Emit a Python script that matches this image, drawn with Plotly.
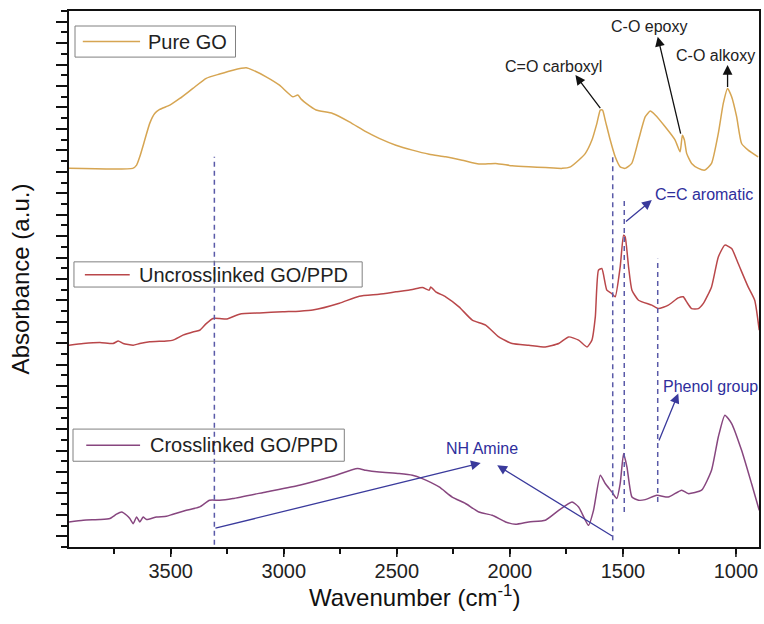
import plotly.graph_objects as go

# FTIR spectra (offset vertically, arbitrary absorbance units)
pure_go_wn = [3950, 3668, 3651, 3637, 3615, 3593, 3571, 3549, 3504, 3460,
              3402, 3343, 3284, 3225, 3166, 3137, 3078, 3019, 2960, 2938,
              2923, 2901, 2857, 2784, 2710, 2637, 2578, 2504, 2431, 2357,
              2284, 2211, 2137, 2063, 1990, 1916, 1843, 1769, 1732, 1696,
              1666, 1637, 1615, 1600, 1590, 1578, 1556, 1534, 1512, 1490,
              1461, 1431, 1401, 1379, 1357, 1313, 1269, 1247, 1237, 1228,
              1218, 1196, 1166, 1137, 1108, 1078, 1056, 1037, 1019, 997,
              975, 946, 902]
pure_go_abs = [17.66, 17.66, 17.81, 18.20, 18.98, 19.76, 20.22, 20.41, 20.61, 20.92,
               21.39, 21.86, 22.06, 22.24, 22.35, 22.24, 21.93, 21.54, 21.00, 21.08,
               20.89, 20.69, 20.38, 20.22, 19.83, 19.37, 19.06, 18.74, 18.51, 18.32,
               18.20, 18.04, 17.86, 17.89, 17.78, 17.73, 17.70, 17.66, 17.73, 18.04,
               18.36, 18.98, 19.76, 20.38, 20.38, 19.90, 18.98, 18.20, 17.73, 17.66,
               17.89, 18.98, 20.07, 20.33, 20.15, 19.60, 18.98, 18.43, 19.21, 18.98,
               18.36, 17.89, 17.66, 17.58, 17.89, 19.29, 20.69, 21.39, 21.00, 20.07,
               18.82, 18.51, 18.20]

uncross_wn = [3950, 3887, 3813, 3755, 3732, 3710, 3666, 3637, 3593, 3519,
              3490, 3446, 3402, 3372, 3343, 3313, 3284, 3254, 3196, 3107,
              3005, 2931, 2872, 2754, 2666, 2578, 2504, 2431, 2387, 2357,
              2350, 2328, 2284, 2225, 2166, 2107, 2049, 1990, 1916, 1843,
              1784, 1740, 1696, 1659, 1637, 1622, 1608, 1593, 1571, 1549,
              1534, 1512, 1497, 1490, 1475, 1460, 1431, 1372, 1343, 1299,
              1255, 1233, 1218, 1196, 1166, 1144, 1108, 1078, 1049, 1019,
              990, 946, 917, 897]
uncross_abs = [9.41, 9.49, 9.54, 9.49, 9.61, 9.49, 9.41, 9.49, 9.57, 9.61,
               9.65, 9.88, 10.03, 10.11, 10.42, 10.66, 10.66, 10.63, 10.86, 10.92,
               10.97, 11.00, 11.05, 11.37, 11.70, 11.79, 11.90, 12.01, 12.10, 11.98,
               12.13, 11.90, 11.67, 11.20, 10.58, 10.35, 9.80, 9.49, 9.41, 9.33,
               9.49, 9.80, 9.65, 9.33, 9.65, 10.73, 12.91, 12.99, 11.98, 11.82,
               11.67, 13.07, 14.54, 14.47, 13.07, 11.98, 11.51, 11.28, 11.12, 11.28,
               11.62, 11.67, 11.43, 11.12, 11.12, 11.36, 12.13, 13.53, 14.08, 13.92,
               13.22, 12.13, 11.51, 10.11]

cross_wn = [3950, 3887, 3813, 3769, 3740, 3717, 3695, 3681, 3666, 3651,
            3637, 3622, 3607, 3563, 3519, 3490, 3431, 3372, 3328, 3284,
            3225, 3078, 2931, 2784, 2674, 2637, 2578, 2490, 2431, 2387,
            2313, 2255, 2196, 2137, 2078, 2019, 1975, 1916, 1843, 1784,
            1725, 1696, 1652, 1630, 1600, 1578, 1549, 1527, 1512, 1497,
            1482, 1460, 1431, 1401, 1350, 1299, 1240, 1211, 1152, 1108,
            1078, 1049, 1019, 975, 931, 897]
cross_abs = [1.17, 1.25, 1.28, 1.33, 1.53, 1.63, 1.48, 1.33, 1.09, 1.40,
             1.17, 1.40, 1.28, 1.40, 1.43, 1.53, 1.71, 1.87, 2.18, 2.18,
             2.26, 2.57, 2.88, 3.30, 3.66, 3.58, 3.50, 3.43, 3.35, 3.19,
             2.80, 2.33, 2.03, 1.63, 1.48, 1.17, 1.06, 1.17, 1.25, 1.71,
             2.10, 1.87, 1.01, 1.71, 3.35, 2.96, 2.57, 2.26, 2.96, 4.36,
             3.73, 2.33, 2.18, 2.21, 2.41, 2.33, 2.65, 2.49, 2.65, 3.58,
             5.13, 6.15, 5.76, 4.51, 2.96, 1.71]

series_names = ["Pure GO", "Uncrosslinked GO/PPD", "Crosslinked GO/PPD"]
series_colors = ["#d6a552", "#b9474a", "#87467f"]

x_ticks = [3500, 3000, 2500, 2000, 1500, 1000]
x_minor_ticks = [3750, 3250, 2750, 2250, 1750, 1250]

# Band guide lines: wavenumber, top and bottom of the dashed marker
band_wn = [3307, 1545, 1494, 1346]
band_top = [18.20, 18.27, 16.18, 13.45]
band_bottom = [0.10, 0.31, 1.63, 2.10]

# Assignment labels
label_text = ["C=O carboxyl", "C-O epoxy", "C-O alkoxy",
              "C=C aromatic", "Phenol group", "NH Amine"]
label_wn = [1806, 1384, 1091, 1368, 1331, 2122]
label_abs = [22.39, 24.27, 22.94, 16.46, 7.47, 4.59]
label_group = ["go", "go", "go", "ppd", "ppd", "ppd"]

# Arrows: tail (on the band) -> head (towards the label)
arrow_tail_wn = [1595, 1243, 1037, 1493, 1343, 3309, 1541]
arrow_tail_abs = [20.40, 19.21, 21.39, 15.12, 4.90, 0.86, 0.47]
arrow_head_wn = [1710, 1346, 1037, 1372, 1255, 2129, 2056]
arrow_head_abs = [22.01, 23.80, 22.48, 16.18, 7.16, 3.92, 3.81]
arrow_group = ["go", "go", "go", "ppd", "ppd", "ppd", "ppd"]

FONT = "Arial, 'Liberation Sans', sans-serif"
text_color = {"go": "#222222", "ppd": "#2e2e9c"}
arrow_color = {"go": "#111111", "ppd": "#3a3a9c"}

# Per-series key boxes placed beside each spectrum (paper coordinates):
# box (x0, y0, x1, y1), key line (x0, x1, y), label x
key_box = [(0.0087, 0.914, 0.2413, 0.972),
           (0.0072, 0.485, 0.4249, 0.532),
           (0.0058, 0.160, 0.3990, 0.220)]
key_line = [(0.020, 0.103, 0.943), (0.023, 0.088, 0.508), (0.025, 0.103, 0.190)]
key_text_x = [0.111, 0.098, 0.114]

fig = go.Figure()

for wn, ab, name, col in zip([pure_go_wn, uncross_wn, cross_wn],
                             [pure_go_abs, uncross_abs, cross_abs],
                             series_names, series_colors):
    fig.add_trace(go.Scatter(x=wn, y=ab, mode="lines", name=name, showlegend=False,
                             line=dict(color=col, width=1.5, shape="spline",
                                       smoothing=0.5)))

shapes = []
for wn, top, bot in zip(band_wn, band_top, band_bottom):
    shapes.append(dict(type="line", xref="x", yref="y", x0=wn, x1=wn, y0=bot, y1=top,
                       line=dict(color="#5a5aa8", width=1.5, dash="5px,4px")))

# longer marks for the labelled wavenumbers, hanging below the x axis
for t in x_ticks:
    shapes.append(dict(type="line", xref="x", yref="paper", x0=t, x1=t,
                       y0=0, y1=-0.0187, line=dict(color="#111111", width=1.5)))

annotations = []
for (x0, y0, x1, y1), (lx0, lx1, ly), tx, name, col in zip(
        key_box, key_line, key_text_x, series_names, series_colors):
    shapes.append(dict(type="rect", xref="paper", yref="paper", x0=x0, x1=x1,
                       y0=y0, y1=y1, line=dict(color="#808080", width=1),
                       fillcolor="rgba(255,255,255,0)"))
    shapes.append(dict(type="line", xref="paper", yref="paper", x0=lx0, x1=lx1,
                       y0=ly, y1=ly, line=dict(color=col, width=1.5)))
    annotations.append(dict(x=tx, y=ly, xref="paper", yref="paper", text=name,
                            showarrow=False, xanchor="left", yanchor="middle",
                            font=dict(family=FONT, size=20, color="#222222")))

for tw, ta, hw, ha, g in zip(arrow_tail_wn, arrow_tail_abs, arrow_head_wn,
                             arrow_head_abs, arrow_group):
    annotations.append(dict(x=hw, y=ha, ax=tw, ay=ta, xref="x", yref="y",
                            axref="x", ayref="y", text="", showarrow=True,
                            arrowhead=2, arrowsize=1.5, arrowwidth=1.3,
                            arrowcolor=arrow_color[g], standoff=0, startstandoff=0))
for t, wn, a, g in zip(label_text, label_wn, label_abs, label_group):
    left = t in ("C=C aromatic", "Phenol group")
    annotations.append(dict(x=wn, y=a, xref="x", yref="y", text=t, showarrow=False,
                            xanchor="left" if left else "center", yanchor="middle",
                            font=dict(family=FONT, size=16, color=text_color[g])))

# x-axis title
annotations.append(dict(x=0.5, y=-0.091, xref="paper", yref="paper",
                        text="Wavenumber (cm<sup>-1</sup>)", showarrow=False,
                        xanchor="center", yanchor="middle",
                        font=dict(family=FONT, size=24, color="#111111")))

fig.update_layout(
    width=764, height=624,
    margin=dict(l=69, r=3, t=11, b=77),
    paper_bgcolor="white", plot_bgcolor="white",
    font=dict(family=FONT, color="#222222"),
    showlegend=False,
    shapes=shapes,
    annotations=annotations,
    xaxis=dict(
        range=[3950, 898],
        tickvals=x_ticks,
        ticks="outside", ticklen=5, tickwidth=1.5, tickcolor="#111111",
        minor=dict(tickvals=x_minor_ticks,
                   ticks="outside", ticklen=5, tickwidth=1.5, tickcolor="#111111"),
        tickfont=dict(family=FONT, size=20, color="#222222"),
        showline=True, linewidth=2, linecolor="#111111", mirror=True,
        showgrid=False, zeroline=False,
    ),
    yaxis=dict(
        range=[0, 25],
        tick0=0.5, dtick=1,
        ticks="outside", ticklen=11, tickwidth=1.8, tickcolor="#111111",
        minor=dict(tick0=0, dtick=0.5, ticks="outside", ticklen=6,
                   tickwidth=1.5, tickcolor="#111111"),
        showticklabels=False,
        showline=True, linewidth=2, linecolor="#111111", mirror=True,
        showgrid=False, zeroline=False,
        title=dict(text="Absorbance (a.u.)",
                   font=dict(family=FONT, size=24, color="#111111"), standoff=20),
    ),
)

fig.write_html("out.html")
